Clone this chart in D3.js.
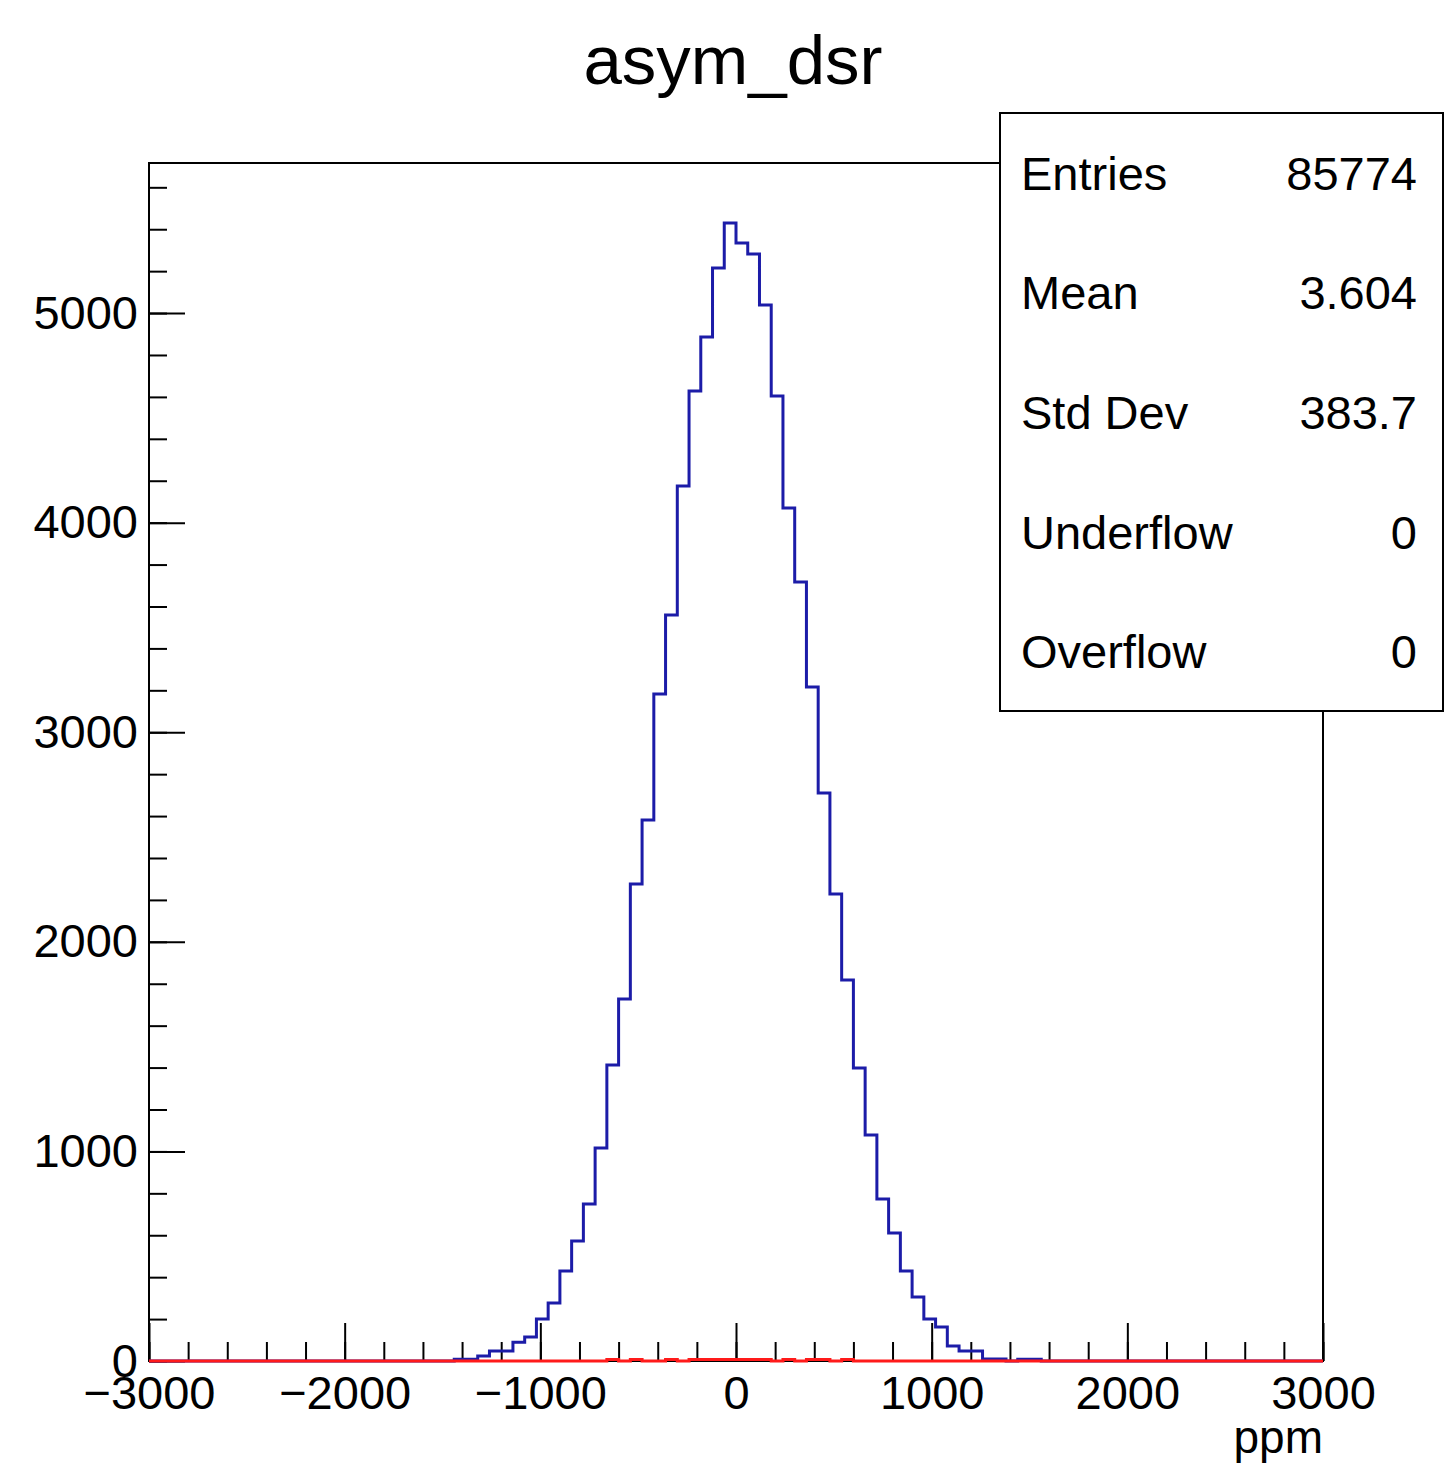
<!DOCTYPE html>
<html>
<head>
<meta charset="utf-8">
<script src="https://cdn.jsdelivr.net/npm/d3@7"></script>
<style>
  body { margin: 0; background: #fff; }
  text { font-family: "Liberation Sans", Helvetica, Arial, sans-serif; fill: #000; }
</style>
</head>
<body>
<svg id="c" width="1451" height="1470"></svg>
<script>
/// histogram asym_dsr, 100 bins of 60 ppm from -3000 to 3000
var binLow = -3000, binWidth = 60;

// blue histogram, counts per bin (bin 0 = -3000..-2940)
var counts = [
  0, 0, 0, 0, 0, 0, 0, 0, 0, 0,
  0, 0, 0, 0, 0, 0, 0, 0, 0, 0,
  0, 0, 0, 0, 0, 0, 8, 8, 24, 48,
  48, 90, 115, 200, 277, 429, 572, 749, 1016, 1412,
  1727, 2276, 2581, 3182, 3559, 4175, 4628, 4886, 5215, 5430,
  5334, 5282, 5038, 4604, 4070, 3717, 3216, 2710, 2228, 1818,
  1398, 1078, 773, 611, 430, 305, 200, 162, 72, 48,
  48, 10, 10, 0, 8, 8, 0, 0, 0, 0,
  0, 0, 0, 0, 0, 0, 0, 0, 0, 0,
  0, 0, 0, 0, 0, 0, 0, 0, 0, 0
];

// red histogram: only a handful of entries near the centre
var redBins   = [39, 41, 44, 46, 47, 48, 49, 50, 51, 52, 54, 56, 57, 59];
var redCounts = [ 7,  7,  7,  7,  7,  7,  7,  7,  7,  7,  7,  7,  7,  7];

var xMajor = [-3000, -2000, -1000, 0, 1000, 2000, 3000];
var yMajor = [0, 1000, 2000, 3000, 4000, 5000];

var statLabels = ["Entries", "Mean", "Std Dev", "Underflow", "Overflow"];
var statValues = ["85774", "3.604", "383.7", "0", "0"];

var svg = d3.select("#c");

var x = d3.scaleLinear().domain([-3000, 3000]).range([149, 1323]);
var y = d3.scaleLinear().domain([0, 5716]).range([1361, 163]);

var fmt = function(d) { return d < 0 ? "\u2212" + Math.abs(d) : String(d); };

// frame
svg.append("rect")
    .attr("x", x(-3000)).attr("y", y(5716))
    .attr("width", x(3000) - x(-3000)).attr("height", y(0) - y(5716))
    .style("fill", "none").style("stroke", "#000").style("stroke-width", 2);

// axes: minor and major ticks in separate groups, pointing inward
svg.append("g").attr("transform", "translate(0," + y(0) + ")")
    .call(d3.axisBottom(x).tickValues(d3.range(-3000, 3001, 200)).tickSize(-19).tickFormat(""));
svg.append("g").attr("transform", "translate(0," + y(0) + ")")
    .call(d3.axisBottom(x).tickValues(xMajor).tickSize(-38).tickPadding(15).tickFormat(fmt));

svg.append("g").attr("transform", "translate(" + x(-3000) + ",0)")
    .call(d3.axisLeft(y).tickValues(d3.range(0, 5701, 200)).tickSize(-18).tickFormat(""));
svg.append("g").attr("transform", "translate(" + x(-3000) + ",0)")
    .call(d3.axisLeft(y).tickValues(yMajor).tickSize(-36).tickPadding(11).tickFormat(d3.format("d")));

svg.selectAll(".domain").remove();
svg.selectAll(".tick line").style("stroke", "#000").style("stroke-width", 2);
svg.selectAll(".tick text").style("font-size", "47px").style("fill", "#000");

// step outline of a histogram
function steps(vals) {
  var pts = [[binLow, 0]];
  vals.forEach(function(v, i) {
    pts.push([binLow + i * binWidth, v]);
    pts.push([binLow + (i + 1) * binWidth, v]);
  });
  pts.push([binLow + vals.length * binWidth, 0]);
  return d3.line().x(function(p) { return x(p[0]); }).y(function(p) { return y(p[1]); })(pts);
}

svg.append("path")
    .attr("d", steps(counts))
    .style("fill", "none").style("stroke", "#1c1ca8").style("stroke-width", 3);

var red = counts.map(function() { return 0; });
redBins.forEach(function(b, i) { red[b] = redCounts[i]; });
svg.append("path")
    .attr("d", steps(red))
    .style("fill", "none").style("stroke", "#ff1a1a").style("stroke-width", 3);

// title and axis title
svg.append("text").attr("x", 733).attr("y", 84)
    .attr("text-anchor", "middle").style("font-size", "69px").text("asym_dsr");
svg.append("text").attr("x", 1323).attr("y", 1453)
    .attr("text-anchor", "end").style("font-size", "46px").text("ppm");

// stats box
svg.append("rect").attr("x", 1000).attr("y", 113).attr("width", 443).attr("height", 598)
    .style("fill", "#fff").style("stroke", "#000").style("stroke-width", 2);
var rowH = 598 / statLabels.length;
var rows = svg.selectAll(".stat").data(statLabels).enter().append("g").attr("class", "stat");
rows.append("text")
    .attr("x", 1021).attr("y", function(d, i) { return 113 + rowH * (i + 0.5) + 17; })
    .style("font-size", "47px").text(function(d) { return d; });
rows.append("text")
    .attr("x", 1417).attr("y", function(d, i) { return 113 + rowH * (i + 0.5) + 17; })
    .attr("text-anchor", "end").style("font-size", "47px")
    .text(function(d, i) { return statValues[i]; });
</script>
</body>
</html>
